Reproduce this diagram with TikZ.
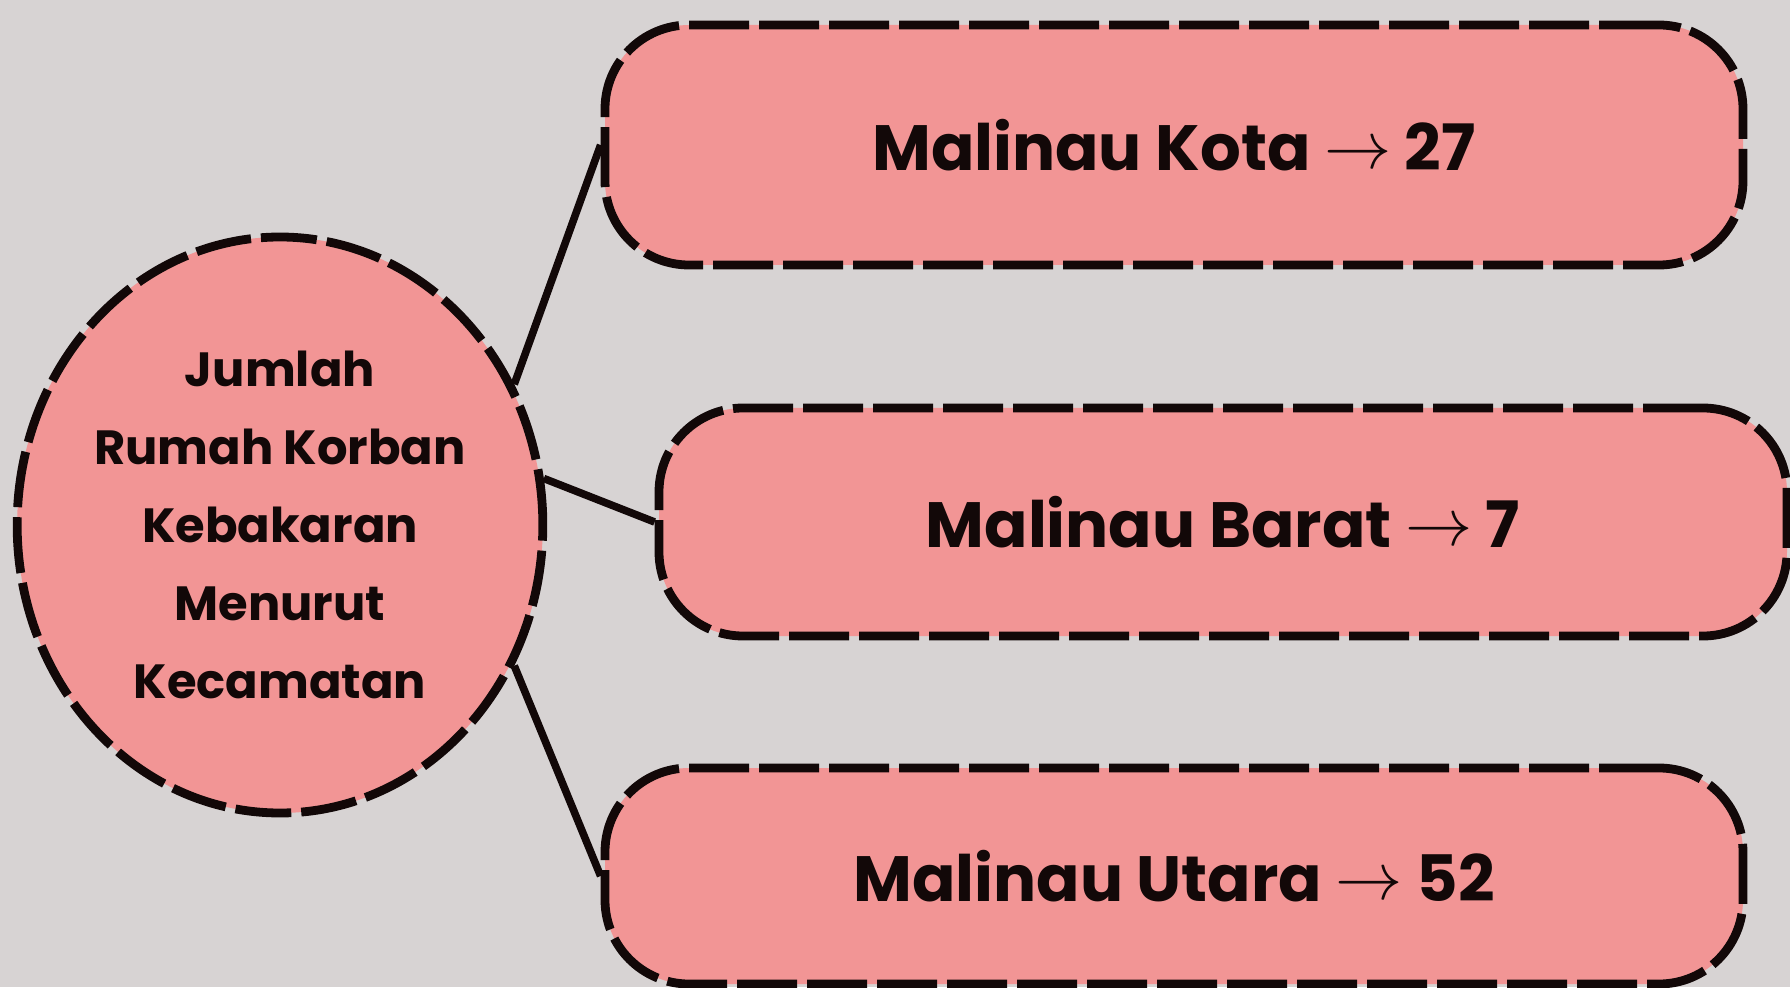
\documentclass[tikz,border=0pt]{standalone}
\usepackage{fontspec}
\setmainfont{Poppins}
\usepackage{graphicx}
\usepackage{tikz}
\usetikzlibrary{shapes.geometric,positioning}
\definecolor{KBGray}{HTML}{D7D3D3}
\definecolor{KBPink}{HTML}{F29595}
\definecolor{KBInk}{HTML}{120808}
\newcommand{\kbto}{\raisebox{1pt}{\scalebox{1.35}{$\rightarrow$}}}

\begin{document}
\begin{tikzpicture}[
  x=0.5pt,y=0.5pt,
  hub/.style={ellipse,draw=KBInk,fill=KBPink,line width=4.4pt,dash pattern=on 28pt off 5pt,
              inner sep=0pt,minimum width=256pt,minimum height=288pt,align=center,
              font=\fontsize{24}{39}\selectfont\bfseries,text=KBInk},
  district/.style={draw=KBInk,fill=KBPink,line width=4.4pt,dash pattern=on 30pt off 5pt,
              rounded corners=42pt,minimum width=569pt,
              font=\fontsize{32}{38}\selectfont\bfseries,text=KBInk},
  link/.style={draw=KBInk,line width=3.8pt}
]
\fill[KBGray] (0,0) rectangle (1790,987);
\useasboundingbox (0,0) rectangle (1790,987);
\node[hub] (root) at (280,462) {Jumlah\\Rumah Korban\\Kebakaran\\Menurut\\Kecamatan};
\node[district,minimum height=120pt] (kota) at (1174,842) {Malinau Kota \kbto{} 27};
\node[district,minimum height=114pt,minimum width=564pt] (barat) at (1223,465) {Malinau Barat \kbto{} 7};
\node[district,minimum height=108pt] (utara) at (1174,111) {Malinau Utara \kbto{} 52};
\foreach \a/\b in {31/kota,10/barat,-31/utara}{\draw[link] (root.\a) -- (\b.west);}
\end{tikzpicture}
\end{document}
